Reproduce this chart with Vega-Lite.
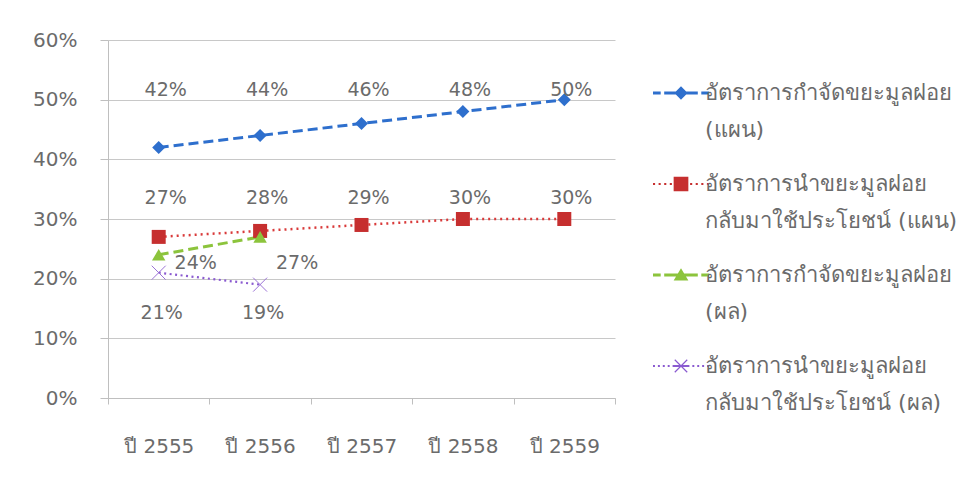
{
  "$schema": "https://vega.github.io/schema/vega-lite/v6.json",
  "width": 507,
  "height": 358,
  "autosize": {"type": "none"},
  "padding": {"left": 108, "top": 40, "right": 348, "bottom": 82},
  "background": "white",
  "config": {
    "font": "DejaVu Sans",
    "view": {"stroke": null},
    "axis": {"labelColor": "#6b6b6b", "labelFontSize": 20, "labelFont": "DejaVu Sans", "domainColor": "#bfbfbf", "tickColor": "#bfbfbf", "gridColor": "#c8c8c8", "title": null}
  },
  "data": {
    "values": [
      {"year": "ปี 2555", "series": "อัตราการกำจัดขยะมูลฝอย (แผน)", "value": 0.42},
      {"year": "ปี 2556", "series": "อัตราการกำจัดขยะมูลฝอย (แผน)", "value": 0.44},
      {"year": "ปี 2557", "series": "อัตราการกำจัดขยะมูลฝอย (แผน)", "value": 0.46},
      {"year": "ปี 2558", "series": "อัตราการกำจัดขยะมูลฝอย (แผน)", "value": 0.48},
      {"year": "ปี 2559", "series": "อัตราการกำจัดขยะมูลฝอย (แผน)", "value": 0.50},
      {"year": "ปี 2555", "series": "อัตราการนำขยะมูลฝอยกลับมาใช้ประโยชน์ (แผน)", "value": 0.27},
      {"year": "ปี 2556", "series": "อัตราการนำขยะมูลฝอยกลับมาใช้ประโยชน์ (แผน)", "value": 0.28},
      {"year": "ปี 2557", "series": "อัตราการนำขยะมูลฝอยกลับมาใช้ประโยชน์ (แผน)", "value": 0.29},
      {"year": "ปี 2558", "series": "อัตราการนำขยะมูลฝอยกลับมาใช้ประโยชน์ (แผน)", "value": 0.30},
      {"year": "ปี 2559", "series": "อัตราการนำขยะมูลฝอยกลับมาใช้ประโยชน์ (แผน)", "value": 0.30},
      {"year": "ปี 2555", "series": "อัตราการกำจัดขยะมูลฝอย (ผล)", "value": 0.24},
      {"year": "ปี 2556", "series": "อัตราการกำจัดขยะมูลฝอย (ผล)", "value": 0.27},
      {"year": "ปี 2555", "series": "อัตราการนำขยะมูลฝอยกลับมาใช้ประโยชน์ (ผล)", "value": 0.21},
      {"year": "ปี 2556", "series": "อัตราการนำขยะมูลฝอยกลับมาใช้ประโยชน์ (ผล)", "value": 0.19}
    ]
  },
  "encoding": {
    "x": {
      "field": "year", "type": "ordinal", "sort": null,
      "scale": {"type": "band", "paddingInner": 0, "paddingOuter": 0, "domain": ["ปี 2555", "ปี 2556", "ปี 2557", "ปี 2558", "ปี 2559"]},
      "axis": {"tickBand": "extent", "tickSize": 6, "labelPadding": 32, "labelAngle": 0, "grid": false, "domainColor": "#bfbfbf"}
    },
    "y": {"field": "value", "type": "quantitative", "scale": {"domain": [0, 0.6]},
          "axis": {"values": [0, 0.1, 0.2, 0.3, 0.4, 0.5, 0.6], "format": ".0%", "tickSize": 8, "labelPadding": 23, "grid": true}}
  },
  "layer": [
    {
      "transform": [{"filter": "datum.series === 'อัตราการกำจัดขยะมูลฝอย (แผน)'"}],
      "mark": {"type": "line", "color": "#2e6fcd", "strokeWidth": 3, "strokeDash": [10, 5]},
      "encoding": {}
    },
    {
      "transform": [{"filter": "datum.series === 'อัตราการนำขยะมูลฝอยกลับมาใช้ประโยชน์ (แผน)'"}],
      "mark": {"type": "line", "color": "#d93a3a", "strokeWidth": 2.5, "strokeDash": [2, 4]},
      "encoding": {}
    },
    {
      "transform": [{"filter": "datum.series === 'อัตราการกำจัดขยะมูลฝอย (ผล)'"}],
      "mark": {"type": "line", "color": "#8cc43c", "strokeWidth": 3, "strokeDash": [10, 5]},
      "encoding": {}
    },
    {
      "transform": [{"filter": "datum.series === 'อัตราการนำขยะมูลฝอยกลับมาใช้ประโยชน์ (ผล)'"}],
      "mark": {"type": "line", "color": "#8a5ad0", "strokeWidth": 2.2, "strokeDash": [2, 3.5]},
      "encoding": {}
    },
    {
      "transform": [{"filter": "datum.series === 'อัตราการกำจัดขยะมูลฝอย (แผน)'"}],
      "mark": {"type": "point", "shape": "diamond", "filled": true, "size": 169, "color": "#2e6fcd", "opacity": 1},
      "encoding": {}
    },
    {
      "transform": [{"filter": "datum.series === 'อัตราการนำขยะมูลฝอยกลับมาใช้ประโยชน์ (แผน)'"}],
      "mark": {"type": "point", "shape": "square", "filled": true, "size": 196, "color": "#c62f2f", "opacity": 1},
      "encoding": {}
    },
    {
      "transform": [{"filter": "datum.series === 'อัตราการกำจัดขยะมูลฝอย (ผล)'"}],
      "mark": {"type": "point", "shape": "triangle-up", "filled": true, "size": 180, "color": "#8cc43c", "opacity": 1},
      "encoding": {}
    },
    {
      "transform": [{"filter": "datum.series === 'อัตราการนำขยะมูลฝอยกลับมาใช้ประโยชน์ (ผล)'"}],
      "mark": {"type": "point", "shape": "M-1,-1L1,1M-1,1L1,-1", "filled": false, "size": 196, "color": "#9b72d6", "strokeWidth": 1, "opacity": 1},
      "encoding": {}
    },
    {
      "transform": [{"filter": "datum.series === 'อัตราการกำจัดขยะมูลฝอย (แผน)'"}],
      "mark": {"type": "text", "dx": 7, "fontSize": 19, "color": "#6b6b6b"},
      "encoding": {"y": {"datum": 0.517}, "text": {"field": "value", "type": "quantitative", "format": ".0%"}}
    },
    {
      "transform": [{"filter": "datum.series === 'อัตราการนำขยะมูลฝอยกลับมาใช้ประโยชน์ (แผน)'"}],
      "mark": {"type": "text", "dx": 7, "fontSize": 19, "color": "#6b6b6b"},
      "encoding": {"y": {"datum": 0.335}, "text": {"field": "value", "type": "quantitative", "format": ".0%"}}
    },
    {
      "transform": [{"filter": "datum.series === 'อัตราการกำจัดขยะมูลฝอย (ผล)'"}],
      "mark": {"type": "text", "dx": 37, "fontSize": 19, "color": "#6b6b6b"},
      "encoding": {"y": {"datum": 0.226}, "text": {"field": "value", "type": "quantitative", "format": ".0%"}}
    },
    {
      "transform": [{"filter": "datum.series === 'อัตราการนำขยะมูลฝอยกลับมาใช้ประโยชน์ (ผล)'"}],
      "mark": {"type": "text", "dx": 3, "fontSize": 19, "color": "#6b6b6b"},
      "encoding": {"y": {"datum": 0.143}, "text": {"field": "value", "type": "quantitative", "format": ".0%"}}
    },
    {
      "mark": {"type": "point", "filled": true, "size": 196, "opacity": 0},
      "encoding": {
        "color": {"field": "series", "type": "nominal",
                  "scale": {"domain": ["อัตราการกำจัดขยะมูลฝอย (แผน)", "อัตราการนำขยะมูลฝอยกลับมาใช้ประโยชน์ (แผน)", "อัตราการกำจัดขยะมูลฝอย (ผล)", "อัตราการนำขยะมูลฝอยกลับมาใช้ประโยชน์ (ผล)"],
                            "range": ["#2e6fcd", "#c62f2f", "#8cc43c", "#8a5ad0"]},
                  "legend": {"title": null, "orient": "none", "legendX": 562, "legendY": 42, "symbolSize": 196, "symbolStrokeWidth": 0, "symbolOpacity": 1,
                             "labelFont": "DejaVu Sans", "labelFontSize": 22, "labelColor": "#6b6b6b", "labelLimit": 400, "labelOffset": 13, "rowPadding": 32,
                             "labelExpr": "[slice(datum.label, 0, indexof(datum.label, 'ฝอย') + 3), trim(slice(datum.label, indexof(datum.label, 'ฝอย') + 3))]",
                             "encode": {"symbols": {"update": {"opacity": {"value": 1}}}, "labels": {"update": {"lineHeight": {"value": 37}}}}}},
        "shape": {"field": "series", "type": "nominal",
                  "scale": {"domain": ["อัตราการกำจัดขยะมูลฝอย (แผน)", "อัตราการนำขยะมูลฝอยกลับมาใช้ประโยชน์ (แผน)", "อัตราการกำจัดขยะมูลฝอย (ผล)", "อัตราการนำขยะมูลฝอยกลับมาใช้ประโยชน์ (ผล)"],
                            "range": [
                              "M-4,-0.21H-2.9V0.21H-4Z M-2.4,-0.21H-1.2V0.21H-2.4Z M0,-0.95L0.95,0L0,0.95L-0.95,0Z M-1.2,-0.21H1.2V0.21H-1.2Z M1.2,-0.21H2.4V0.21H1.2Z M2.9,-0.21H4V0.21H2.9Z",
                              "M-4,-0.15H-3.7V0.15H-4Z M-3.2,-0.15H-2.9V0.15H-3.2Z M-2.4,-0.15H-2.1V0.15H-2.4Z M-1.6,-0.15H-1.3V0.15H-1.6Z M-1.05,-1.05H1.05V1.05H-1.05Z M1.3,-0.15H1.6V0.15H1.3Z M2.1,-0.15H2.4V0.15H2.1Z M2.9,-0.15H3.2V0.15H2.9Z M3.7,-0.15H4V0.15H3.7Z",
                              "M-4,-0.21H-2.9V0.21H-4Z M-2.4,-0.21H-1.2V0.21H-2.4Z M0,-0.95L1.05,0.8L-1.05,0.8Z M-1.2,-0.21H1.2V0.21H-1.2Z M1.2,-0.21H2.4V0.21H1.2Z M2.9,-0.21H4V0.21H2.9Z",
                              "M-4,-0.14H-3.72V0.14H-4Z M-3.3,-0.14H-3.02V0.14H-3.3Z M-2.6,-0.14H-2.32V0.14H-2.6Z M-1.9,-0.14H-1.62V0.14H-1.9Z M-0.95,-0.83L-0.83,-0.95L0.95,0.83L0.83,0.95Z M0.83,-0.95L0.95,-0.83L-0.83,0.95L-0.95,0.83Z M-1.2,-0.14H1.2V0.14H-1.2Z M1.62,-0.14H1.9V0.14H1.62Z M2.32,-0.14H2.6V0.14H2.32Z M3.02,-0.14H3.3V0.14H3.02Z M3.72,-0.14H4V0.14H3.72Z"
                            ]},
                  "legend": {"title": null, "orient": "none", "legendX": 562, "legendY": 42, "symbolSize": 196, "symbolStrokeWidth": 0, "symbolOpacity": 1,
                             "labelFont": "DejaVu Sans", "labelFontSize": 22, "labelColor": "#6b6b6b", "labelLimit": 400, "labelOffset": 13, "rowPadding": 32,
                             "labelExpr": "[slice(datum.label, 0, indexof(datum.label, 'ฝอย') + 3), trim(slice(datum.label, indexof(datum.label, 'ฝอย') + 3))]",
                             "encode": {"symbols": {"update": {"opacity": {"value": 1}}}, "labels": {"update": {"lineHeight": {"value": 37}}}}}}
      }
    }
  ]
}
